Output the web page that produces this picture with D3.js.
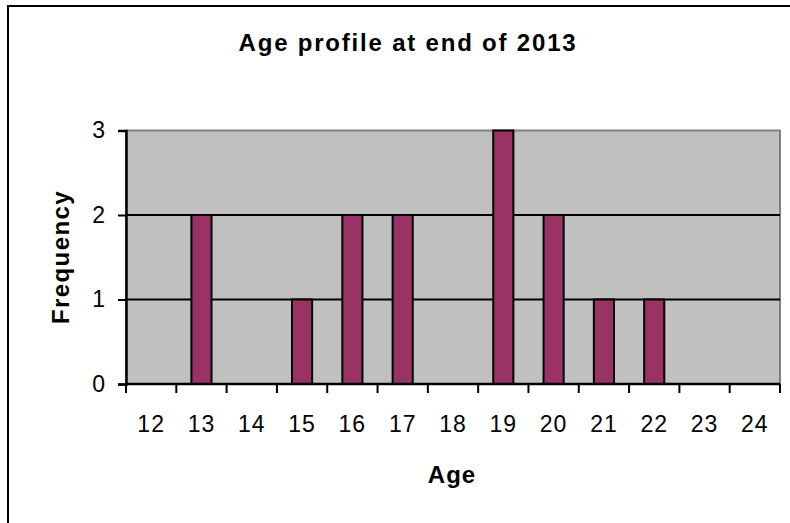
<!DOCTYPE html>
<html>
<head>
<meta charset="utf-8">
<script src="https://cdn.jsdelivr.net/npm/d3@7"></script>
<style>
  body { margin: 0; background: #fff; }
  text { font-family: "Liberation Sans", Arial, sans-serif; }
</style>
</head>
<body>
<div id="chart"></div>
<script>
// chart data
const ages = ["12", "13", "14", "15", "16", "17", "18", "19", "20", "21", "22", "23", "24"];
const frequency = [0, 2, 0, 1, 2, 2, 0, 3, 2, 1, 1, 0, 0];
const yTicks = [0, 1, 2, 3];

const width = 790;
const height = 523;
const margin = { top: 130.5, right: 10, bottom: 139, left: 126 };

const svg = d3.select('#chart')
    .append('svg')
    .attr('width', width)
    .attr('height', height);

// outer chart frame (runs off the picture at right and bottom)
svg.append('rect')
    .attr('x', 8).attr('y', 6)
    .attr('width', 820).attr('height', 560)
    .attr('fill', '#fff')
    .attr('stroke', '#000')
    .attr('stroke-width', 2);

const xScale = d3.scaleBand()
    .domain(ages)
    .range([margin.left, width - margin.right])
    .padding(0);

const yScale = d3.scaleLinear()
    .domain([0, 3])
    .range([height - margin.bottom, margin.top]);

// plot area
svg.append('rect')
    .attr('x', margin.left)
    .attr('y', margin.top)
    .attr('width', width - margin.right - margin.left)
    .attr('height', height - margin.bottom - margin.top)
    .attr('fill', '#c0c0c0')
    .attr('stroke', '#808080')
    .attr('stroke-width', 2);

// gridlines
svg.selectAll('.grid')
    .data(yTicks.filter(d => d > 0 && d < 3))
    .enter().append('line')
    .attr('x1', margin.left)
    .attr('x2', width - margin.right)
    .attr('y1', d => yScale(d))
    .attr('y2', d => yScale(d))
    .attr('stroke', '#000')
    .attr('stroke-width', 2);

// bars
const barW = xScale.bandwidth() * 0.4;
svg.selectAll('.bar')
    .data(frequency.map((v, i) => ({ age: ages[i], v })).filter(d => d.v > 0))
    .enter().append('rect')
    .attr('x', d => xScale(d.age) + (xScale.bandwidth() - barW) / 2)
    .attr('y', d => yScale(d.v))
    .attr('width', barW)
    .attr('height', d => yScale(0) - yScale(d.v))
    .attr('fill', '#993366')
    .attr('stroke', '#000')
    .attr('stroke-width', 2);

// y axis
const yAxis = d3.axisLeft(yScale).tickValues(yTicks).tickSize(8).tickPadding(12).tickFormat(d3.format('d'));
const gy = svg.append('g')
    .attr('transform', `translate(${margin.left},0)`)
    .call(yAxis);
gy.select('.domain').attr('stroke', '#000').attr('stroke-width', 2.5);
gy.selectAll('.tick line').attr('stroke-width', 2);
gy.selectAll('text').attr('font-size', 23).attr('fill', '#000')
    .attr('font-family', 'Liberation Sans, Arial, sans-serif').attr('letter-spacing', 1);

// x axis: ticks at band edges, labels centered in bands
const gx = svg.append('g')
    .attr('transform', `translate(0,${height - margin.bottom})`);
gx.append('line')
    .attr('x1', margin.left).attr('x2', width - margin.right)
    .attr('stroke', '#000').attr('stroke-width', 2.5);
const edges = ages.map(a => xScale(a)).concat([xScale(ages[ages.length - 1]) + xScale.bandwidth()]);
gx.selectAll('.xt')
    .data(edges)
    .enter().append('line')
    .attr('x1', d => d).attr('x2', d => d)
    .attr('y1', 0).attr('y2', 9)
    .attr('stroke', '#000').attr('stroke-width', 2);
gx.selectAll('.xl')
    .data(ages)
    .enter().append('text')
    .attr('x', d => xScale(d) + xScale.bandwidth() / 2)
    .attr('y', 48)
    .attr('text-anchor', 'middle')
    .attr('font-size', 23)
    .attr('letter-spacing', 1)
    .text(d => d);

// title and axis titles
svg.append('text')
    .attr('x', 408).attr('y', 51)
    .attr('text-anchor', 'middle')
    .attr('font-size', 24).attr('font-weight', 'bold')
    .attr('letter-spacing', 1.8)
    .text('Age profile at end of 2013');

svg.append('text')
    .attr('x', 452).attr('y', 483)
    .attr('text-anchor', 'middle')
    .attr('font-size', 24).attr('font-weight', 'bold')
    .attr('letter-spacing', 1)
    .text('Age');

svg.append('text')
    .attr('transform', 'translate(69,257) rotate(-90)')
    .attr('text-anchor', 'middle')
    .attr('font-size', 24).attr('font-weight', 'bold')
    .attr('letter-spacing', 1.4)
    .text('Frequency');
</script>
</body>
</html>
